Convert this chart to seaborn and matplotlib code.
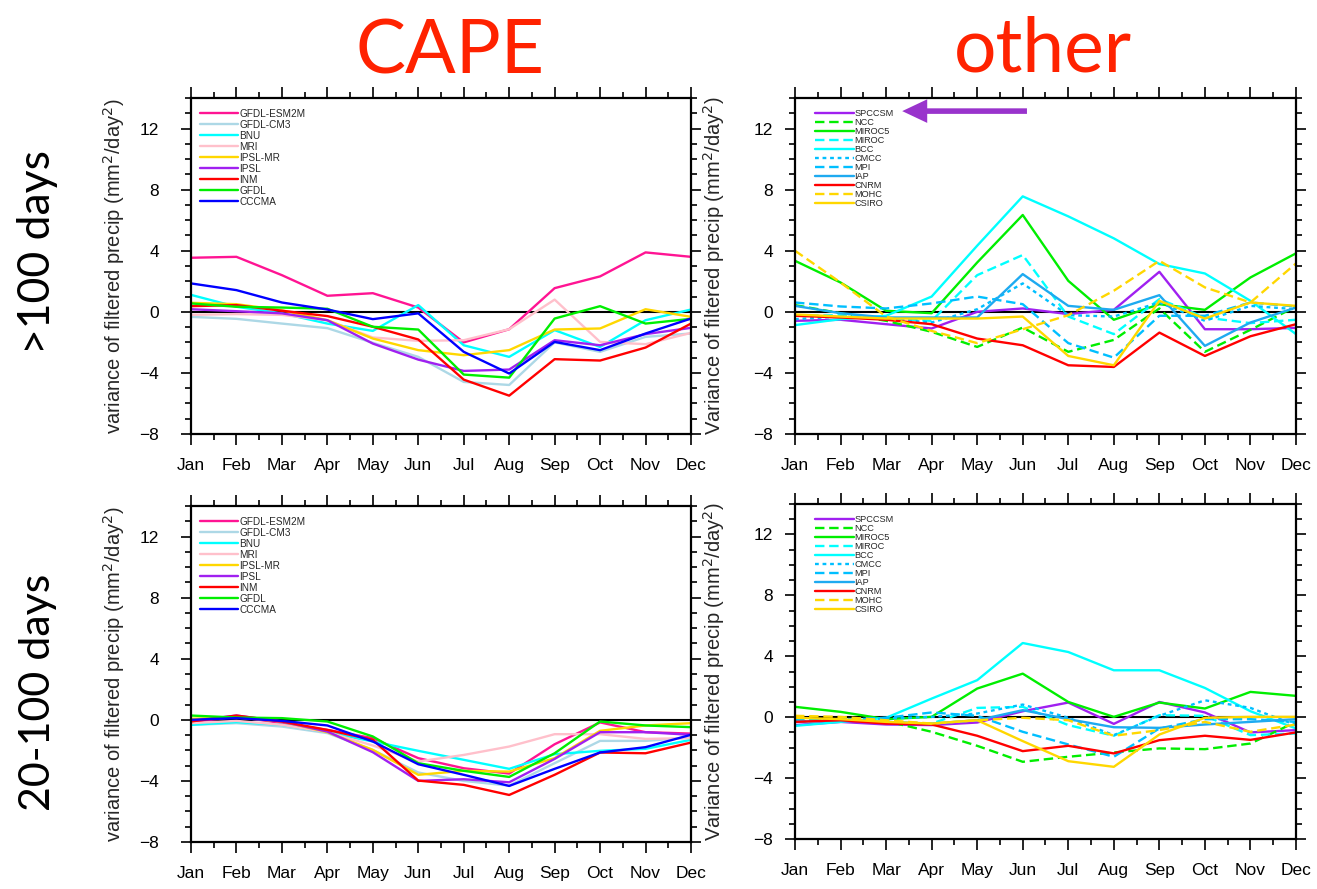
import numpy as np
import pandas as pd
import matplotlib
matplotlib.use("Agg")
import matplotlib.pyplot as plt
from matplotlib.ticker import MultipleLocator, FixedLocator
import seaborn as sns

# ---------------------------------------------------------------- data
months = ["Jan", "Feb", "Mar", "Apr", "May", "Jun",
          "Jul", "Aug", "Sep", "Oct", "Nov", "Dec"]

cape_models = ["GFDL-ESM2M", "GFDL-CM3", "BNU", "MRI", "IPSL-MR",
               "IPSL", "INM", "GFDL", "CCCMA"]
cape_colors = ["#FF1493", "#ADD8E6", "#00FFFF", "#FFC0CB", "#FFD700",
               "#A020F0", "#FF0000", "#00EE00", "#0000FF"]

other_models = ["SPCCSM", "NCC", "MIROC5", "MIROC", "BCC", "CMCC",
                "MPI", "IAP", "CNRM", "MOHC", "CSIRO"]
other_colors = ["#A020F0", "#00EE00", "#00EE00", "#00FFFF", "#00FFFF",
                "#00BFFF", "#00BFFF", "#1EAAF0", "#FF0000", "#FFD700",
                "#FFD700"]
other_styles = ["solid", "dashed", "solid", "dashed", "solid", "dotted",
                "dashed", "solid", "solid", "dashed", "solid"]

# variance of filtered precip, >100 day band, CAPE-based models
cape_long = {
    "GFDL-ESM2M": [3.54, 3.60, 2.40, 1.05, 1.22, 0.28, -2.00, -1.14, 1.55, 2.32, 3.89, 3.60],
    "GFDL-CM3":   [-0.33, -0.46, -0.77, -1.07, -2.03, -2.95, -4.59, -4.79, -2.00, -2.62, -1.64, -1.42],
    "BNU":        [1.11, 0.33, -0.10, -0.77, -1.25, 0.44, -2.19, -2.95, -1.20, -2.30, -0.55, 0.15],
    "MRI":        [-0.20, -0.15, -0.20, -0.55, -1.68, -1.90, -1.86, -1.14, 0.80, -1.97, -2.12, -1.38],
    "IPSL-MR":    [0.59, 0.50, 0.10, -0.55, -1.75, -2.51, -2.84, -2.51, -1.16, -1.09, 0.17, -0.33],
    "IPSL":       [0.17, 0.04, -0.10, -0.55, -2.08, -3.13, -3.87, -3.78, -1.86, -2.19, -1.46, -1.05],
    "INM":        [0.37, 0.44, 0.07, -0.28, -0.98, -1.81, -4.44, -5.49, -3.10, -3.19, -2.34, -0.77],
    "GFDL":       [0.55, 0.33, 0.28, 0.20, -0.98, -1.16, -4.11, -4.31, -0.44, 0.37, -0.77, -0.46],
    "CCCMA":      [1.86, 1.42, 0.61, 0.15, -0.48, -0.10, -2.62, -4.04, -1.97, -2.51, -1.42, -0.44],
}

# variance of filtered precip, 20-100 day band, CAPE-based models
cape_short = {
    "GFDL-ESM2M": [-0.17, 0.22, -0.22, -0.66, -1.20, -2.51, -3.17, -3.52, -1.60, -0.17, -0.81, -0.90],
    "GFDL-CM3":   [-0.33, -0.22, -0.44, -0.87, -1.97, -3.45, -4.00, -4.31, -2.84, -1.38, -1.38, -1.16],
    "BNU":        [-0.33, -0.15, -0.33, -0.81, -1.42, -2.03, -2.62, -3.21, -2.25, -2.03, -1.90, -1.31],
    "MRI":        [-0.22, -0.07, -0.33, -0.81, -1.68, -2.73, -2.30, -1.75, -0.94, -0.94, -1.25, -1.20],
    "IPSL-MR":    [0.07, 0.15, -0.11, -0.81, -1.97, -3.60, -3.34, -3.39, -2.51, -0.72, -0.37, -0.22],
    "IPSL":       [-0.07, 0.28, -0.11, -0.77, -2.12, -4.00, -3.89, -4.09, -2.56, -0.81, -0.81, -0.98],
    "INM":        [-0.11, 0.28, -0.11, -0.66, -1.31, -3.98, -4.26, -4.92, -3.60, -2.14, -2.19, -1.49],
    "GFDL":       [0.28, 0.15, 0.11, -0.11, -1.09, -2.84, -3.34, -3.74, -2.19, -0.11, -0.37, -0.48],
    "CCCMA":      [0.00, 0.11, -0.07, -0.37, -1.42, -2.91, -3.60, -4.33, -3.21, -2.14, -1.79, -0.98],
}

# variance of filtered precip, >100 day band, other models
other_long = {
    "SPCCSM": [-0.59, -0.52, -0.81, -1.09, 0.00, 0.22, -0.15, 0.13, 2.62, -1.14, -1.14, -1.05],
    "NCC":    [0.44, -0.09, -0.59, -1.31, -2.30, -1.03, -2.62, -1.84, 0.22, -2.62, -1.18, 0.35],
    "MIROC5": [3.34, 1.92, 0.07, -0.09, 3.23, 6.34, 2.03, -0.52, 0.50, 0.13, 2.25, 3.83],
    "MIROC":  [-0.26, -0.22, -0.44, -0.59, 2.40, 3.72, -0.31, -1.46, 0.83, -0.37, -0.74, -0.52],
    "BCC":    [-0.87, -0.48, -0.26, 1.00, 4.33, 7.56, 6.25, 4.81, 3.13, 2.51, 0.72, -1.46],
    "CMCC":   [-0.48, -0.31, -0.44, -0.70, 0.17, 1.86, -0.22, -0.31, 0.61, -0.59, 0.39, 0.17],
    "MPI":    [0.61, 0.35, 0.22, 0.55, 1.00, 0.50, -2.05, -3.00, -0.26, -0.26, 0.61, 0.35],
    "IAP":    [0.39, -0.09, -0.37, -0.37, -0.37, 2.47, 0.39, 0.13, 1.09, -2.23, -0.70, 0.28],
    "CNRM":   [-0.26, -0.37, -0.52, -0.81, -1.75, -2.19, -3.50, -3.61, -1.36, -2.89, -1.60, -0.81],
    "MOHC":   [4.00, 1.92, -0.31, -1.25, -2.05, -1.14, -0.22, 1.38, 3.34, 1.60, 0.61, 3.17],
    "CSIRO":  [-0.17, -0.31, -0.44, -0.44, -0.44, -0.31, -2.89, -3.50, 0.72, -0.44, 0.61, 0.39],
}

# variance of filtered precip, 20-100 day band, other models
other_short = {
    "SPCCSM": [-0.52, -0.31, -0.48, -0.52, -0.35, 0.39, 0.96, -0.44, 1.00, 0.31, -1.00, -0.85],
    "NCC":    [-0.26, -0.13, -0.26, -0.96, -1.88, -2.93, -2.60, -2.32, -2.05, -2.10, -1.73, -0.31],
    "MIROC5": [0.68, 0.35, -0.13, 0.02, 1.88, 2.86, 1.00, 0.02, 0.96, 0.57, 1.66, 1.40],
    "MIROC":  [-0.31, -0.20, -0.31, -0.42, 0.61, 0.68, -0.52, -1.22, 0.13, 0.09, -1.18, -1.07],
    "BCC":    [-0.57, -0.31, -0.04, 1.22, 2.43, 4.87, 4.28, 3.08, 3.08, 1.92, 0.39, -0.74],
    "CMCC":   [-0.31, -0.13, -0.09, 0.02, 0.24, 0.83, -0.04, -1.18, 0.09, 1.11, 0.61, -0.52],
    "MPI":    [-0.20, -0.13, -0.04, 0.31, 0.09, -0.96, -1.79, -2.60, -0.74, -0.13, -0.13, -0.31],
    "IAP":    [-0.31, -0.20, -0.31, -0.42, -0.20, 0.46, -0.13, -0.66, -0.70, -0.48, -0.31, -0.13],
    "CNRM":   [-0.31, -0.20, -0.42, -0.48, -1.22, -2.23, -1.88, -2.38, -1.51, -1.22, -1.49, -1.00],
    "MOHC":   [0.09, 0.02, -0.20, -0.42, -0.20, -0.04, -0.20, -1.22, -0.85, -0.31, -0.96, -0.48],
    "CSIRO":  [-0.04, -0.13, -0.31, -0.42, -0.20, -1.57, -2.89, -3.26, -1.14, -0.04, 0.02, 0.02],
}

y_ticks = [-8, -4, 0, 4, 8, 12]
y_limits = (-8, 14)

# ---------------------------------------------------------------- style
sns.set_theme(style="ticks")
plt.rcParams["font.family"] = ["Liberation Sans", "DejaVu Sans"]

dash_patterns = {"solid": "-", "dashed": (0, (4, 2)), "dotted": (0, (1.6, 1.6))}

W, H = 1317, 889
fig = plt.figure(figsize=(W / 100, H / 100), dpi=100)


def px_axes(x0, y0, x1, y1):
    """Axes placed by its pixel corners (top-left origin)."""
    return fig.add_axes([x0 / W, 1 - y1 / H, (x1 - x0) / W, (y1 - y0) / H])


def draw_panel(ax, table, models, colors, styles, ylabel, leg_size,
               leg_x, leg_handle, leg_space, label_x, ypad):
    frame = pd.DataFrame(table, index=months)
    frame["month"] = np.arange(len(months))
    tidy = frame.melt(id_vars="month", var_name="model", value_name="variance")
    for model, color, style in zip(models, colors, styles):
        sub = tidy[tidy["model"] == model]
        sns.lineplot(data=sub, x="month", y="variance", color=color,
                     linestyle=dash_patterns[style], linewidth=1.7,
                     label=model, ax=ax)
    ax.axhline(0, color="black", linewidth=1.5, zorder=1.5)

    ax.set_xlim(0, len(months) - 1)
    ax.set_ylim(*y_limits)
    ax.xaxis.set_major_locator(FixedLocator(np.arange(len(months))))
    ax.xaxis.set_minor_locator(MultipleLocator(0.5))
    ax.set_xticklabels(months)
    ax.yaxis.set_major_locator(FixedLocator(y_ticks))
    ax.yaxis.set_minor_locator(MultipleLocator(1))

    ax.tick_params(which="both", direction="out", top=True, right=True,
                   colors="black", width=1.2)
    ax.tick_params(axis="x", which="major", length=8, pad=9, labelsize=12.5)
    ax.tick_params(axis="x", which="minor", length=4)
    ax.tick_params(axis="y", which="major", length=7, pad=ypad, labelsize=12.5)
    ax.tick_params(axis="y", which="minor", length=4)
    for spine in ax.spines.values():
        spine.set_linewidth(1.6)
        spine.set_color("black")

    ax.set_xlabel("")
    ax.set_ylabel(ylabel, fontsize=14.5)
    ax.yaxis.set_label_coords(label_x, 0.5)

    leg = ax.legend(loc="upper left", bbox_to_anchor=(leg_x, 0.968),
                    frameon=False, fontsize=leg_size, handlelength=leg_handle,
                    handletextpad=0.1, labelspacing=leg_space, borderpad=0,
                    borderaxespad=0)
    for line in leg.get_lines():
        line.set_linewidth(1.7)


ax_tl = px_axes(191, 98, 691, 434)
ax_tr = px_axes(795, 98, 1296, 434)
ax_bl = px_axes(191, 506, 691, 842)
ax_br = px_axes(795, 504, 1296, 839)

ylab_low = "variance of filtered precip (mm$^2$/day$^2$)"
ylab_up = "Variance of filtered precip (mm$^2$/day$^2$)"
solid = ["solid"] * len(cape_models)

draw_panel(ax_tl, cape_long, cape_models, cape_colors, solid, ylab_low,
           7.2, 0.018, 3.8, 0.1, -0.128, 16)
draw_panel(ax_bl, cape_short, cape_models, cape_colors, solid, ylab_low,
           7.2, 0.018, 3.8, 0.1, -0.128, 16)
draw_panel(ax_tr, other_long, other_models, other_colors, other_styles,
           ylab_up, 6.6, 0.04, 4.2, 0.0, -0.136, 9)
draw_panel(ax_br, other_short, other_models, other_colors, other_styles,
           ylab_up, 6.6, 0.04, 4.2, 0.0, -0.136, 9)

# arrow pointing at the SPCCSM entry
ax_tr.annotate("", xy=(0.214, 0.961), xytext=(0.463, 0.961),
               xycoords="axes fraction", textcoords="axes fraction",
               arrowprops=dict(arrowstyle="simple,head_length=18,head_width=17,tail_width=4",
                               mutation_scale=1, color="#9933CC", lw=0,
                               shrinkA=0, shrinkB=0))

# column and row headings
title_font = ["Lato", "DejaVu Sans"]
fig.text(450 / W, 1 - 52 / H, "CAPE", color="#FF2200", fontsize=54,
         family=title_font, ha="center", va="center")
fig.text(1043 / W, 1 - 50 / H, "other", color="#FF2200", fontsize=54,
         family=title_font, ha="center", va="center")
fig.text(38 / W, 1 - 252 / H, ">100 days", color="black", fontsize=32,
         family=title_font, rotation=90, ha="center", va="center")
fig.text(38 / W, 1 - 692 / H, "20-100 days", color="black", fontsize=31,
         family=title_font, rotation=90, ha="center", va="center")

fig.savefig("out.png", dpi=100, facecolor="white")
